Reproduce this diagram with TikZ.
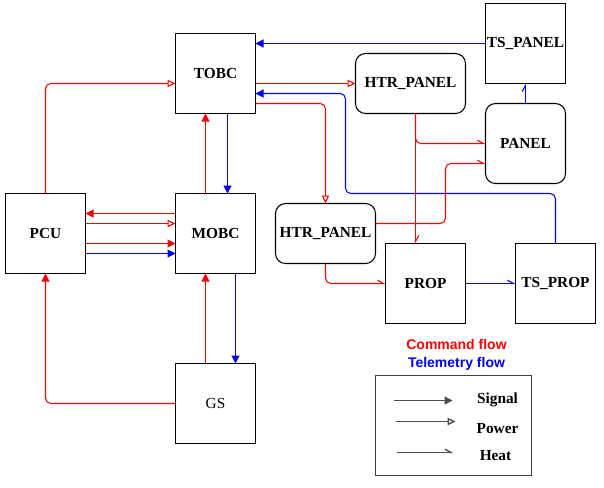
\documentclass[tikz,border=0pt]{standalone}
\usepackage{fontspec}
\setmainfont{Liberation Serif}
\newfontfamily\legsans{Liberation Sans}
\usetikzlibrary{arrows.meta,calc}
\begin{document}
\begin{tikzpicture}[x=0.75pt,y=-0.75pt,
  font=\fontsize{11.5}{13}\selectfont\bfseries,
  blk/.style={draw, line width=0.8pt, minimum width=60pt, minimum height=60pt, inner sep=0pt, outer sep=0pt},
  rnd/.style={blk, rounded corners=7.5pt},
  cmd/.style={draw=red, color=red, line width=0.8pt},
  tel/.style={draw=blue, color=blue, line width=0.8pt},
  rc/.style={rounded corners=4pt},
  sig/.style={-{Triangle[length=6pt,width=6pt]}},
  pow/.style={-{Triangle[open,length=6pt,width=5.5pt]}},
  heat/.style={-{Straight Barb[harpoon,length=4.5pt,width=5pt]}},
  leg/.style={draw=black!70, color=black!70, line width=1pt},
  legtxt/.style={font=\fontsize{11.5}{13}\selectfont\bfseries}
]
\fill[white] (-0.5,-0.5) rectangle (603.5,486.5);
\useasboundingbox (-0.5,-0.5) rectangle (603.5,486.5);

% nodes
\node[blk] (tobc) at (215,73) {TOBC};
\node[rnd, minimum width=82.5pt, minimum height=45pt] (htrA) at (410,83) {HTR\_PANEL};
\node[blk] (tspanel) at (525,43) {TS\_PANEL};
\node[rnd] (panel) at (525,143) {PANEL};
\node[blk] (pcu) at (45,233) {PCU};
\node[blk] (mobc) at (215,233) {MOBC};
\node[rnd, minimum width=75pt, minimum height=45pt] (htrB) at (325,233) {HTR\_PANEL};
\node[blk] (prop) at (425,283) {PROP};
\node[blk] (tsprop) at (555,283) {TS\_PROP};
\node[blk, font=\fontsize{11.5}{13}\selectfont] (gs) at (215,403) {GS};

% helper coordinates
\coordinate (h1) at ($(htrA.south)+(5,0)$);
\coordinate (t1) at ($(tobc.east)+(0,20)$);
\coordinate (t2) at ($(tobc.east)+(0,30)$);
\coordinate (t3) at ($(tobc.west)+(0,10)$);
\coordinate (tb1) at ($(tobc.south)+(12,0)$);
\coordinate (tb2) at ($(tobc.south)+(-10,0)$);
\coordinate (mt1) at ($(mobc.north)+(12,0)$);
\coordinate (mt2) at ($(mobc.north)+(-10,0)$);
\coordinate (mb1) at ($(mobc.south)+(-10,0)$);
\coordinate (mb2) at ($(mobc.south)+(20,0)$);
\coordinate (g1) at ($(gs.north)+(-10,0)$);
\coordinate (g2) at ($(gs.north)+(20,0)$);
\coordinate (m1) at ($(mobc.west)+(0,-20)$);
\coordinate (m2) at ($(mobc.west)+(0,-10)$);
\coordinate (m3) at ($(mobc.west)+(0,10)$);
\coordinate (m4) at ($(mobc.west)+(0,20)$);
\coordinate (hb) at ($(htrB.east)+(0,-10)$);
\coordinate (pw) at ($(panel.west)+(0,20)$);

% connectors around TOBC
\draw[tel, sig] (tspanel.west) -- (tspanel.west -| tobc.east);
\draw[cmd, pow] (htrA.west -| tobc.east) -- (htrA.west);
\draw[tel, sig, rc] (tsprop.north) |- (345,193) |- (t1);
\draw[cmd, pow, rc] (t2) -| (htrB.north);
\draw[tel, heat] (panel.north) -- (tspanel.south);
\draw[cmd, heat, rc] (h1) |- (panel.west);
\draw[cmd, heat] (h1) -- (h1 |- prop.north);
\draw[cmd, heat, rc] (hb) -| (445,193) |- (pw);
\draw[cmd, heat, rc] (htrB.south) |- (prop.west);
\draw[tel, heat] (prop.east) -- (tsprop.west);

% TOBC - MOBC
\draw[tel, sig] (tb1) -- (mt1);
\draw[cmd, sig] (mt2) -- (tb2);
\draw[cmd, pow, rc] (pcu.north) |- (t3);

% PCU - MOBC
\draw[cmd, sig] (m1) -- (m1 -| pcu.east);
\draw[cmd, pow] (m2 -| pcu.east) -- (m2);
\draw[cmd, sig] (m3 -| pcu.east) -- (m3);
\draw[tel, sig] (m4 -| pcu.east) -- (m4);

% GS
\draw[cmd, sig] (g1) -- (mb1);
\draw[tel, sig] (mb2) -- (g2);
\draw[cmd, sig, rc] (gs.west) -| (pcu.south);

% legend
\node[text=red, font=\legsans\fontsize{10.5}{12}\selectfont\bfseries] (cmdflow) at (456,344) {Command flow};
\node[text=blue, font=\legsans\fontsize{10.5}{12}\selectfont\bfseries] (telflow) at (456,363) {Telemetry flow};
\node[draw=black!75, line width=0.9pt, minimum width=117pt, minimum height=75pt, inner sep=0pt] (legbox) at (453,425) {};
\node[legtxt] (lsig) at (497,399) {Signal};
\node[legtxt] (lpow) at (497,428) {Power};
\node[legtxt] (lheat) at (495,455) {Heat};
\coordinate (a1) at (393,400); \coordinate (a2) at (452,400);
\coordinate (b1) at (395,421); \coordinate (b2) at (455,421);
\coordinate (c1) at (396,452); \coordinate (c2) at (453,452);
\draw[leg, sig] (a1) -- (a2);
\draw[leg, pow] (b1) -- (b2);
\draw[leg, heat] (c1) -- (c2);
\end{tikzpicture}
\end{document}
